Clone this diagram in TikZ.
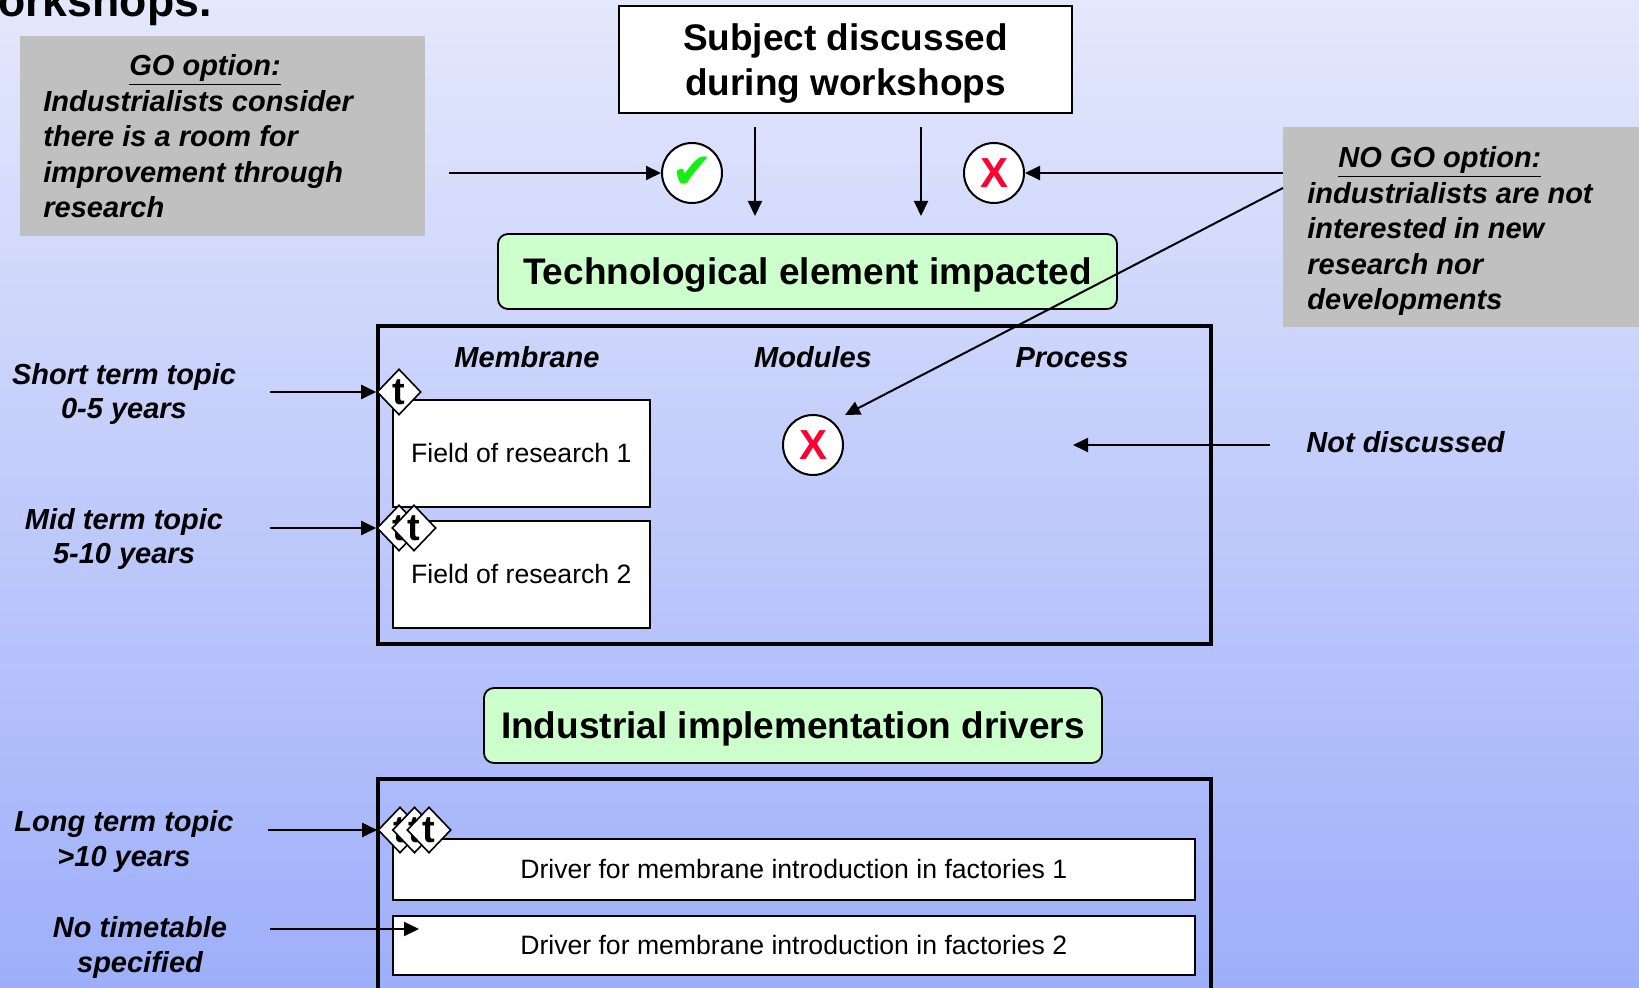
\documentclass[tikz,border=0pt]{standalone}
\usepackage{fontspec}
\setmainfont{Liberation Sans}
\newfontfamily\symfont{DejaVu Sans}
\usepackage{tikz}
\usetikzlibrary{shapes.geometric, arrows.meta}
\definecolor{bgtop}{RGB}{228, 232, 252}
\definecolor{bgbottom}{RGB}{158, 175, 250}
\definecolor{optgray}{RGB}{192, 192, 192}
\definecolor{titlegreen}{RGB}{204, 255, 204}
\definecolor{okgreen}{RGB}{20, 240, 20}
\definecolor{nored}{RGB}{255, 0, 51}
\tikzset{
    optbox/.style={fill=optgray, inner sep=0pt, anchor=north west, minimum height=100pt},
    opttext/.style={anchor=base west, align=left, inner sep=0pt, font=\fontsize{14.5}{17.8}\selectfont\bfseries\itshape},
    lbl/.style={inner sep=0pt, align=center, anchor=base, font=\fontsize{14.5}{17.2}\selectfont\bfseries\itshape},
    subjectbox/.style={draw, line width=1pt, fill=white, minimum width=226.5pt, minimum height=53.5pt, text depth=0pt, align=center, font=\fontsize{18.5}{22.4}\selectfont\bfseries},
    titlebox/.style={draw, line width=0.9pt, fill=titlegreen, rounded corners=5pt, minimum height=37.5pt, text depth=0pt, font=\fontsize{18.5}{22.4}\selectfont\bfseries},
    bigframe/.style={draw, line width=2pt, inner sep=0pt, anchor=north west, minimum width=416.5pt},
    fieldbox/.style={draw, line width=0.8pt, fill=white, inner sep=0pt, anchor=north west, font=\fontsize{13.3}{16}\selectfont},
    tmark/.style={diamond, draw, line width=0.8pt, fill=white, inner sep=0pt, minimum width=22pt, minimum height=23pt, font=\fontsize{19}{19}\selectfont\bfseries},
    yesnode/.style={circle, draw, line width=1pt, fill=white, minimum size=30pt, inner sep=0pt, text=okgreen, font=\symfont\fontsize{25}{25}\selectfont},
    nonode/.style={circle, draw, line width=1pt, fill=white, minimum size=30pt, inner sep=0pt, text=nored, font=\fontsize{21}{21}\selectfont\bfseries},
    link/.style={line width=1pt, -{Triangle[length=7.5pt, width=7pt]}}
}
\begin{document}
\begin{tikzpicture}[x=0.5pt, y=-0.5pt]
    \useasboundingbox (0,0) rectangle (1639,988);
    \clip (0,0) rectangle (1639,988);
    \shade[top color=bgtop, bottom color=bgbottom] (0,0) rectangle (1639,988);

    \node (title) [anchor=base west, inner sep=0pt, font=\fontsize{22.3}{26}\selectfont\bfseries] at (-2,17) {orkshops.};

    % options (base = last line)
    \node (gobox) [optbox, minimum width=202.5pt] at (20,36) {};
    \node (gotext) [opttext] at (43,218) {\hspace*{43pt}\underline{GO option:}\\Industrialists consider\\there is a room for\\improvement through\\research};
    \node (nogobox) [optbox, minimum width=188.5pt] at (1283,127) {};
    \node (nogotext) [opttext] at (1307,310) {\hspace*{15.5pt}\underline{NO GO option:}\\industrialists are not\\interested in new\\research nor\\developments};

    \node (subject) [subjectbox] at (845.5,59.5) {Subject discussed\\during workshops};
    \node (yes1) [yesnode] at (692,173) {✔};
    \node (no1) [nonode] at (994,173) {X};

    \coordinate (gostart) at (449,173);
    \coordinate (nogostart) at (1283,173);
    \coordinate (down1a) at (755,127);
    \coordinate (down1b) at (755,216);
    \coordinate (down2a) at (921,127);
    \coordinate (down2b) at (921,216);
    \draw[link] (gostart) -- (yes1);
    \draw[link] (nogostart) -- (no1);
    \draw[link] (down1a) -- (down1b);
    \draw[link] (down2a) -- (down2b);

    % technological elements
    \node (tech) [titlebox, minimum width=309.5pt] at (807.5,271.5) {Technological element impacted};
    \node (techframe) [bigframe, minimum height=159pt] at (376,324) {};
    \node (membrane) [lbl] at (527,368) {Membrane};
    \node (modules) [lbl] at (813,368) {Modules};
    \node (process) [lbl] at (1072,368) {Process};
    \node (field1) [fieldbox, minimum width=128.5pt, minimum height=53.5pt] at (392,399) {Field of research 1};
    \node (field2) [fieldbox, minimum width=128.5pt, minimum height=53.5pt] at (392,520) {Field of research 2};
    \node (tm1) [tmark] at (399,392) {t};
    \node (tm2a) [tmark] at (399,528) {t};
    \node (tm2b) [tmark] at (414,528) {t};
    \node (no2) [nonode] at (813,445) {X};
    \node (notdisc) [lbl, anchor=base west] at (1306,453) {Not discussed};

    \node (short) [lbl] at (124,419) {Short term topic\\0-5 years};
    \node (mid) [lbl] at (124,564) {Mid term topic\\5-10 years};
    \coordinate (shortstart) at (270,392);
    \coordinate (midstart) at (270,528);
    \draw[link] (shortstart) -- (tm1.west);
    \draw[link] (midstart) -- (tm2a.west);

    \coordinate (nogoline) at (1283,188);
    \coordinate (nogotip) at (845,415);
    \coordinate (ndstart) at (1270,445);
    \coordinate (ndend) at (1073,445);
    \draw[link] (nogoline) -- (nogotip);
    \draw[link] (ndstart) -- (ndend);

    % industrial drivers
    \node (industrial) [titlebox, minimum width=309pt] at (793,725.5) {Industrial implementation drivers};
    \node (driverframe) [bigframe, minimum height=120pt] at (376,777) {};
    \node (driver1) [fieldbox, minimum width=401pt, minimum height=30.5pt] at (392,838) {Driver for membrane introduction in factories 1};
    \node (driver2) [fieldbox, minimum width=401pt, minimum height=29.5pt] at (392,915) {Driver for membrane introduction in factories 2};
    \node (tm3a) [tmark] at (400,830) {t};
    \node (tm3b) [tmark] at (414.5,830) {t};
    \node (tm3c) [tmark] at (429,830) {t};

    \node (long) [lbl] at (124,866) {Long term topic\\>10 years};
    \node (notime) [lbl] at (140,972) {No timetable\\specified};
    \coordinate (longstart) at (268,830);
    \coordinate (notimestart) at (270,929);
    \coordinate (notimeend) at (419,929);
    \draw[link] (longstart) -- (tm3a.west);
    \draw[link] (notimestart) -- (notimeend);
\end{tikzpicture}
\end{document}
